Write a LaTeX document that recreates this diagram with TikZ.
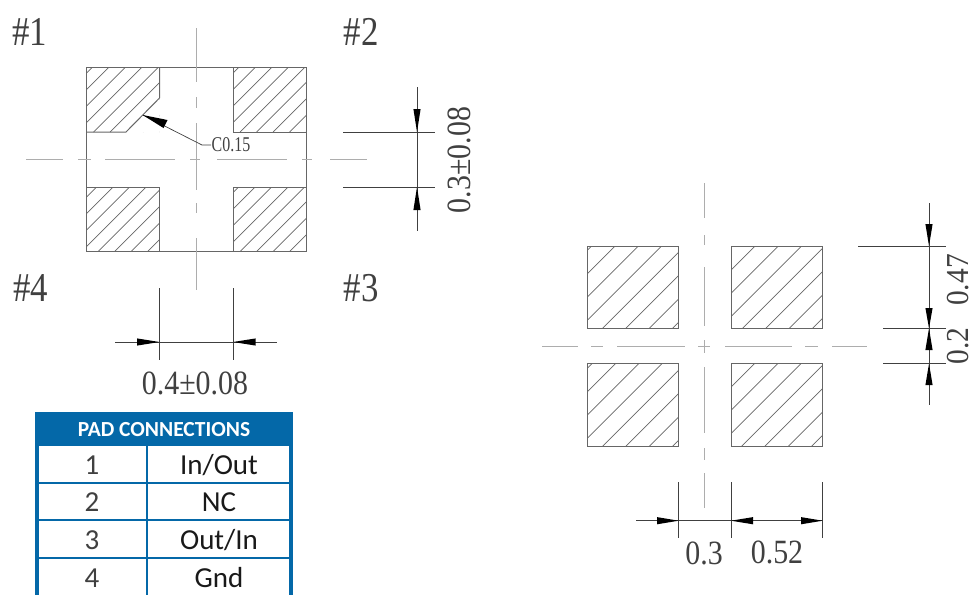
\documentclass[tikz,border=0pt]{standalone}
\usepackage{fontspec}
\setmainfont{Liberation Serif}
\newfontfamily\tblfont{Carlito}
\definecolor{tblblue}{HTML}{0468A8}
\definecolor{inkline}{gray}{0.40}
\definecolor{inkdim}{gray}{0.25}
\definecolor{inktext}{gray}{0.25}
\newcommand{\dimtxt}[3]{\fontsize{#1}{#1}\selectfont\scalebox{#2}[1]{#3}}
\newcommand{\hatchbox}[6]{%
  \begin{scope}
    \clip (#1,#2) rectangle (#3,#4);
    \foreach \k in {-14,...,14}{
      \pgfmathsetmacro{\cc}{#6+\k*#5}
      \draw[hatchline] (\cc-#4,#4) -- (\cc-#2,#2);
    }
  \end{scope}}
\tikzset{
  x=1pt,y=-1pt,
  hatchline/.style={draw=inkline,line width=0.7pt},
  outline/.style={draw=inkline,line width=1pt},
  centre/.style={draw=black!32,line width=1pt},
  dimline/.style={draw=inkdim,line width=0.7pt},
  head/.style={draw=none,fill=black},
  label/.style={inner sep=0pt,text=inktext},
  rowtext/.style={inner sep=0pt,font=\tblfont\fontsize{29}{29}\selectfont,text=black!90},
  numtext/.style={inner sep=0pt,font=\tblfont\fontsize{29}{29}\selectfont,text=inktext},
}
\newcommand{\headv}[3]{\fill[head] (#1,#2) -- (#1-3.6,#3) -- (#1+3.6,#3) -- cycle;}
\newcommand{\headh}[3]{\fill[head] (#1,#3) -- (#2,#3-3.6) -- (#2,#3+3.6) -- cycle;}
\begin{document}
\begin{tikzpicture}
\useasboundingbox (0,0) rectangle (971,595);

% ---------- left: package underside ----------
\hatchbox{86}{67.5}{159.5}{132}{16.5}{176}
\fill[white] (159.6,97) -- (159.6,132.5) -- (125.5,132.5) -- cycle;
\hatchbox{233}{67.5}{306.5}{132}{16.5}{322.5}
\hatchbox{86}{187}{159.5}{251.5}{16.5}{300}
\hatchbox{233}{187}{306.5}{251.5}{16.5}{442}
\draw[outline] (86,67.5) rectangle (306.5,251.5);
\draw[outline] (159.5,67.5) -- (159.5,98) -- (126,132) -- (86,132);
\draw[outline] (233,67.5) -- (233,132) -- (306.5,132);
\draw[outline] (86,187) -- (159.5,187) -- (159.5,251.5);
\draw[outline] (306.5,187) -- (233,187) -- (233,251.5);
\foreach \a/\b in {26/63,78/91,105/175,190/200,217/287,302/312,330/367}
  \draw[centre] (\a,159.5) -- (\b,159.5);
\foreach \a/\b in {28/82,97/108,123/190,203/213,238/290}
  \draw[centre] (196,\a) -- (196,\b);

% leader C0.15
\draw[dimline] (143,115) -- (202,145) -- (211,145);
\fill[head] (142.7,115) -- (167.5,120) -- (163.5,128) -- cycle;
\node[label] (c015) at (231,145) {\dimtxt{21}{0.76}{C0.15}};

% dimension 0.3±0.08
\draw[dimline] (417,87) -- (417,231);
\draw[dimline] (343,132) -- (435,132);
\draw[dimline] (343,187) -- (435,187);
\headv{417}{132}{109}
\headv{417}{187}{210}
\node[label,rotate=90] (dimgap) at (459,160) {\dimtxt{34}{0.88}{0.3±0.08}};

% dimension 0.4±0.08
\draw[dimline] (115,342) -- (277,342);
\draw[dimline] (159.5,288) -- (159.5,360);
\draw[dimline] (233,288) -- (233,360);
\headh{159.5}{137}{342}
\headh{233}{255.7}{342}
\node[label] (dimwid) at (195,383) {\dimtxt{34}{0.88}{0.4±0.08}};

\node[label] (p1) at (29.5,32) {\dimtxt{41}{0.85}{\#1}};
\node[label] (p2) at (361,32) {\dimtxt{41}{0.85}{\#2}};
\node[label] (p4) at (30.5,288) {\dimtxt{41}{0.85}{\#4}};
\node[label] (p3) at (361,288) {\dimtxt{41}{0.85}{\#3}};

% ---------- right: land pattern ----------
\hatchbox{587.3}{246}{678.7}{328.3}{23.3}{861}
\hatchbox{731}{246}{822.7}{328.3}{23.3}{1001}
\hatchbox{587.3}{363.7}{678.7}{446.7}{23.3}{979}
\hatchbox{731}{363.7}{822.7}{446.7}{23.3}{1118}
\draw[outline] (587.3,246) rectangle (678.7,328.3);
\draw[outline] (731,246) rectangle (822.7,328.3);
\draw[outline] (587.3,363.7) rectangle (678.7,446.7);
\draw[outline] (731,363.7) rectangle (822.7,446.7);
\foreach \a/\b in {542/578,591/603,617/685,698/710,725/792,805/818,832/867}
  \draw[centre] (\a,346) -- (\b,346);
\foreach \a/\b in {183/218,235/245,267/326,340/353,367/433,448/460,473/508}
  \draw[centre] (704.7,\a) -- (704.7,\b);

% vertical dims
\draw[dimline] (929,203) -- (929,405);
\draw[dimline] (858,246) -- (946,246);
\draw[dimline] (883,328.3) -- (946,328.3);
\draw[dimline] (883,363.7) -- (946,363.7);
\headv{929}{246}{224}
\headv{929}{328.3}{308}
\headv{929}{328.3}{350}
\headv{929}{363.7}{385}
\node[label,rotate=90] (d47) at (958,280) {\dimtxt{32}{0.92}{0.47}};
\node[label,rotate=90] (d2) at (958,346) {\dimtxt{32}{0.92}{0.2}};

% horizontal dims
\draw[dimline] (636,520.7) -- (823,520.7);
\foreach \xx in {678.7,731,822.7}
  \draw[dimline] (\xx,482) -- (\xx,538);
\headh{678.7}{657}{520.7}
\headh{731}{753}{520.7}
\headh{822.7}{801}{520.7}
\node[label] (d3) at (704,553) {\dimtxt{34}{0.88}{0.3}};
\node[label] (d52) at (777,552) {\dimtxt{34}{0.88}{0.52}};

% ---------- table ----------
\fill[tblblue] (35,412) rectangle (293,446);
\fill[tblblue] (35,446) rectangle (39,595);
\fill[tblblue] (289,446) rectangle (293,595);
\fill[tblblue] (145.6,446) rectangle (147.6,595);
\foreach \yy in {482.7,519.8,557.5}
  \fill[tblblue] (39,\yy-1) rectangle (289,\yy+1);
\node[inner sep=0pt,text=white,font=\tblfont\bfseries\fontsize{21.5}{21.5}\selectfont] (thead) at (164,430) {PAD CONNECTIONS};
\node[numtext] (n1) at (92,465) {1};
\node[numtext] (n2) at (92,502) {2};
\node[numtext] (n3) at (92,540) {3};
\node[numtext] (n4) at (92,578) {4};
\node[rowtext] (v1) at (219,465) {In/Out};
\node[rowtext] (v2) at (219,502) {NC};
\node[rowtext] (v3) at (219,540) {Out/In};
\node[rowtext] (v4) at (219,578) {Gnd};
\end{tikzpicture}
\end{document}
